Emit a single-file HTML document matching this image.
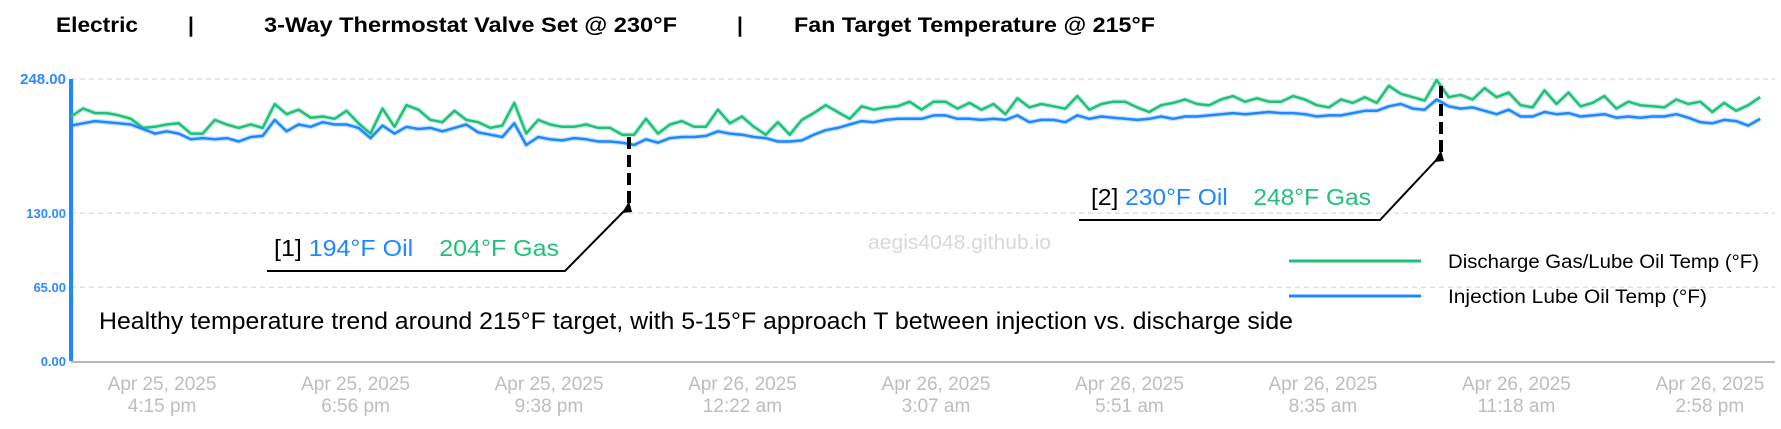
<!DOCTYPE html>
<html><head><meta charset="utf-8"><style>
html,body{margin:0;padding:0;background:#fff;width:1781px;height:429px;overflow:hidden}
svg{display:block;font-family:"Liberation Sans",sans-serif}
</style></head><body>
<svg id="chart" width="1781" height="429">
<g font-weight="bold" font-size="21" fill="#000">
<text x="56" y="32" textLength="82" lengthAdjust="spacingAndGlyphs">Electric</text>
<text x="188" y="32">|</text>
<text x="264" y="32" textLength="413" lengthAdjust="spacingAndGlyphs">3-Way Thermostat Valve Set @ 230°F</text>
<text x="737" y="32">|</text>
<text x="794" y="32" textLength="361" lengthAdjust="spacingAndGlyphs">Fan Target Temperature @ 215°F</text>
</g>
<g id="grid"></g>
<g id="yaxis"></g>
<g id="xaxis"></g>
<g id="series"></g>
<text x="868" y="249" font-size="20" textLength="183" lengthAdjust="spacingAndGlyphs" fill="#d8d8d8">aegis4048.github.io</text>
<g font-size="23">
<text x="274" y="256" textLength="285" lengthAdjust="spacingAndGlyphs"><tspan fill="#000">[1] </tspan><tspan fill="#1e88ff">194°F Oil</tspan><tspan fill="#21c07a" dx="24">204°F Gas</tspan></text>
<polyline points="267,271 565,271 629,206" fill="none" stroke="#000" stroke-width="2"/>
<polygon points="629,201 622,213 632,212" fill="#000"/>
<line x1="629" y1="203" x2="629" y2="135" stroke="#000" stroke-width="4" stroke-dasharray="12,6"/>
</g>
<g font-size="23">
<text x="1091" y="205" textLength="280" lengthAdjust="spacingAndGlyphs"><tspan fill="#000">[2] </tspan><tspan fill="#1e88ff">230°F Oil</tspan><tspan fill="#21c07a" dx="24">248°F Gas</tspan></text>
<polyline points="1079,220 1380,220 1441,155" fill="none" stroke="#000" stroke-width="2"/>
<polygon points="1441,150 1434,162 1444,161" fill="#000"/>
<line x1="1441" y1="152" x2="1441" y2="80" stroke="#000" stroke-width="4" stroke-dasharray="12,6"/>
</g>
<g font-size="19" fill="#000">
<g><line x1="1289" y1="261" x2="1421" y2="261" stroke="#21c07a" stroke-width="3"/><text x="1448" y="268" textLength="311" lengthAdjust="spacingAndGlyphs">Discharge Gas/Lube Oil Temp (°F)</text></g>
<g><line x1="1289" y1="296" x2="1421" y2="296" stroke="#1e88ff" stroke-width="3"/><text x="1448" y="303" textLength="259" lengthAdjust="spacingAndGlyphs">Injection Lube Oil Temp (°F)</text></g>
</g>
<text x="99" y="329" font-size="24" textLength="1194" lengthAdjust="spacingAndGlyphs" fill="#000">Healthy temperature trend around 215°F  target, with 5-15°F approach T between injection vs. discharge side</text>
</svg>
<script>
const yTicks=[0,65,130,248];
const tickTimes=[76,237.5,399,560.5,722,883.5,1045,1206.5,1368];
const tickDates=["Apr 25, 2025","Apr 25, 2025","Apr 25, 2025","Apr 26, 2025","Apr 26, 2025","Apr 26, 2025","Apr 26, 2025","Apr 26, 2025","Apr 26, 2025"];
const tickHours=["4:15 pm","6:56 pm","9:38 pm","12:22 am","3:07 am","5:51 am","8:35 am","11:18 am","2:58 pm"];
const sampleMinutes=10;
const discharge=[215,222,218,218,216,213,205,206,208,209,200,200,212,208,205,208,205,226,217,221,214,215,213,220,209,200,222,206,225,221,212,210,220,212,210,205,207,227,200,212,208,206,206,208,205,205,199,199,213,200,208,211,206,206,221,209,215,206,199,210,199,212,218,225,219,213,224,221,223,224,228,221,228,228,222,227,221,226,217,231,223,226,224,222,233,221,226,228,228,223,219,225,227,230,226,225,230,233,228,231,228,228,233,230,225,223,230,227,232,227,242,235,232,229,247,232,234,230,240,232,236,225,223,238,226,236,224,227,233,222,228,225,224,223,230,226,228,219,227,220,225,232];
const injection=[207,209,211,210,209,208,204,200,202,200,195,196,195,196,193,197,198,212,202,208,206,210,208,208,205,196,207,200,206,204,205,202,205,208,201,199,197,209,190,197,195,194,196,195,193,193,192,190,195,192,196,197,197,198,202,200,199,197,196,193,193,194,199,203,205,208,211,210,212,213,213,213,216,216,213,213,212,213,212,216,210,212,212,210,216,213,215,214,213,212,213,215,213,215,215,216,217,218,217,218,219,218,218,217,215,216,216,218,220,220,224,226,222,221,230,224,222,223,220,217,221,215,215,219,217,218,215,216,217,214,215,214,215,215,217,214,210,209,212,211,207,213];
const NS='http://www.w3.org/2000/svg';
const x0=71,pxPerMin=1.198,yBase=361,pxPerUnit=282/248;
function xScale(t){return x0+t*pxPerMin;}
function yScale(v){return yBase-v*pxPerUnit;}
function mk(tag,attrs,parent){const e=document.createElementNS(NS,tag);for(const k in attrs)e.setAttribute(k,attrs[k]);parent.appendChild(e);return e;}
const grid=document.getElementById('grid'),ya=document.getElementById('yaxis'),xa=document.getElementById('xaxis'),ser=document.getElementById('series');
yTicks.forEach(v=>{
  const y=yScale(v);
  if(v>0){const g=mk('line',{x1:x0,x2:1775,y1:y,y2:y,stroke:'#cfcfcf','stroke-width':1,'stroke-dasharray':'5,4'},grid);
  
  }
  const t=mk('text',{x:x0-5,y:y+5,'text-anchor':'end','font-size':v===248?15:13,'font-weight':'bold',fill:'#2e8bff'},ya);
  t.textContent=v.toFixed(2);
  
  
});
const axl=mk('line',{x1:x0,x2:x0,y1:yScale(248),y2:yBase,stroke:'#1e88ff','stroke-width':4},ya);


const bl=mk('line',{x1:x0,x2:1775,y1:yBase+1,y2:yBase+1,stroke:'#a0a0a0','stroke-width':1.5},xa);


tickTimes.forEach((t,i)=>{
  const x=xScale(t);
  const a=mk('text',{x:x,y:390,'text-anchor':'middle','font-size':19,fill:'#bdbdbd'},xa);
  a.textContent=tickDates[i];
  
  
  const b=mk('text',{x:x,y:412,'text-anchor':'middle','font-size':19,fill:'#bdbdbd'},xa);
  b.textContent=tickHours[i];
  
  
});
function drawLine(vals,color,name){
  const pts=vals.map((v,i)=>xScale(i*sampleMinutes).toFixed(1)+','+yScale(v).toFixed(1)).join(' ');
  const glow=mk('polyline',{points:pts,fill:'none',stroke:color,'stroke-width':5,'stroke-opacity':0.25,'stroke-linejoin':'round'},ser);
  
  
  const p=mk('polyline',{points:pts,fill:'none',stroke:color,'stroke-width':2.5,'stroke-linejoin':'round'},ser);
  
  
}
drawLine(discharge,'#21c07a','discharge-gas-line');
drawLine(injection,'#1e88ff','injection-oil-line');
</script>
</body></html>
